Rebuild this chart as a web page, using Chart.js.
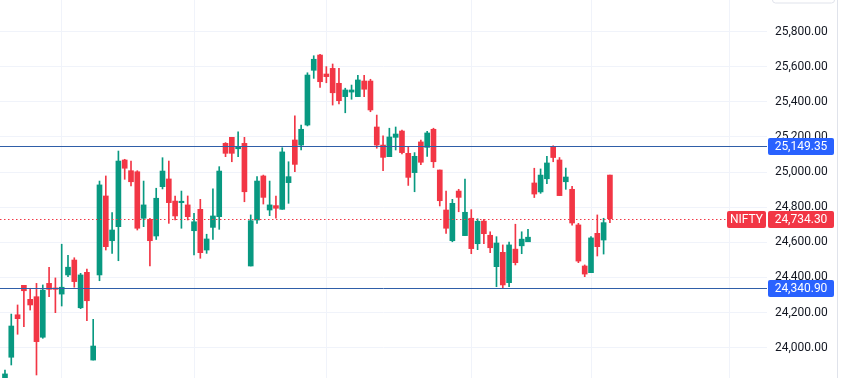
<!DOCTYPE html>
<html>
<head>
<meta charset="utf-8">
<script src="https://cdn.jsdelivr.net/npm/chart.js@4.4.1/dist/chart.umd.min.js"></script>
<style>
html, body { margin: 0; padding: 0; background: #ffffff; }
#wrap { width: 849px; height: 378px; }
</style>
</head>
<body>
<div id="wrap"><canvas id="nifty" width="849" height="378"></canvas></div>
<script>
// ── DATOS (NIFTY diario) ──
var dates = [
    '2025-04-17','2025-04-21','2025-04-22','2025-04-23','2025-04-24','2025-04-25','2025-04-28','2025-04-29','2025-04-30',
    '2025-05-02','2025-05-05','2025-05-06','2025-05-07','2025-05-08','2025-05-09','2025-05-12','2025-05-13','2025-05-14','2025-05-15','2025-05-16',
    '2025-05-19','2025-05-20','2025-05-21','2025-05-22','2025-05-23','2025-05-26','2025-05-27','2025-05-28','2025-05-29','2025-05-30',
    '2025-06-02','2025-06-03','2025-06-04','2025-06-05','2025-06-06','2025-06-09','2025-06-10','2025-06-11','2025-06-12','2025-06-13',
    '2025-06-16','2025-06-17','2025-06-18','2025-06-19','2025-06-20','2025-06-23','2025-06-24','2025-06-25','2025-06-26','2025-06-27','2025-06-30',
    '2025-07-01','2025-07-02','2025-07-03','2025-07-04','2025-07-07','2025-07-08','2025-07-09','2025-07-10','2025-07-11','2025-07-14','2025-07-15',
    '2025-07-16','2025-07-17','2025-07-18','2025-07-21','2025-07-22','2025-07-23','2025-07-24','2025-07-25','2025-07-28','2025-07-29','2025-07-30','2025-07-31',
    '2025-08-01','2025-08-04','2025-08-05','2025-08-06','2025-08-07','2025-08-08','2025-08-11','2025-08-12','2025-08-13','2025-08-14',
    '2025-08-18','2025-08-19','2025-08-20','2025-08-21','2025-08-22','2025-08-25','2025-08-26','2025-08-28','2025-08-29',
    '2025-09-01','2025-09-02','2025-09-03','2025-09-04'
];
var opens = [
    23790, 23945, 24187, 24355, 24275, 24290, 24059, 24366, 24340,
    24305, 24414, 24499, 24227, 24429, 23929, 24414, 24864, 24609, 24689, 25069,
    25008, 25002, 24737, 24731, 24636, 24917, 24961, 24835, 24826, 24813,
    24666, 24788, 24556, 24685, 24746, 25164, 25198, 25133, 25164, 24465,
    24727, 24978, 24784, 24809, 24788, 24940, 25183, 25154, 25268, 25580, 25667,
    25559, 25591, 25506, 25430, 25456, 25430, 25519, 25519, 25257, 25154, 25088,
    25198, 25234, 25107, 24997, 25172, 25141, 25244, 25012, 24784, 24609, 24892, 24638,
    24737, 24592, 24721, 24640, 24461, 24543, 24370, 24561, 24580, 24603,
    24938, 24887, 24962, 25143, 25069, 24945, 24902, 24699, 24465,
    24427, 24651, 24613, 24983
];
var highs = [
    23872, 24191, 24243, 24355, 24338, 24366, 24357, 24458, 24397,
    24589, 24526, 24512, 24423, 24448, 24161, 24949, 24978, 24769, 25120, 25073,
    25063, 25008, 24949, 24737, 24908, 25082, 25063, 24864, 24892, 24864,
    24765, 24845, 24646, 24904, 25031, 25168, 25198, 25230, 25198, 24756,
    24974, 24983, 24949, 24864, 25139, 25059, 25320, 25268, 25566, 25663, 25671,
    25601, 25616, 25591, 25478, 25496, 25552, 25552, 25529, 25325, 25206, 25250,
    25257, 25240, 25146, 25111, 25183, 25233, 25250, 25012, 24892, 24845, 24902, 24960,
    24786, 24734, 24731, 24660, 24632, 24585, 24601, 24703, 24660, 24674,
    25022, 25018, 25090, 25150, 25083, 25023, 24919, 24708, 24471,
    24632, 24756, 24737, 24983
];
var lows = [
    23770, 23901, 24076, 24119, 24214, 23844, 24053, 24290, 24199,
    24237, 24404, 24344, 24222, 24153, 23929, 24381, 24556, 24537, 24495, 24959,
    24921, 24670, 24689, 24465, 24616, 24904, 24708, 24727, 24680, 24727,
    24528, 24509, 24537, 24617, 24674, 25088, 25059, 25088, 24831, 24465,
    24708, 24818, 24752, 24737, 24788, 24822, 25002, 25126, 25263, 25534, 25483,
    25509, 25382, 25388, 25338, 25415, 25430, 25430, 25344, 25136, 25008, 25088,
    25126, 25103, 24924, 24888, 25043, 25090, 25026, 24807, 24651, 24603, 24774, 24638,
    24535, 24558, 24592, 24541, 24347, 24340, 24347, 24471, 24535, 24603,
    24855, 24879, 24934, 25059, 24866, 24902, 24697, 24484, 24404,
    24427, 24522, 24533, 24712
];
var closes = [
    23850, 24123, 24165, 24324, 24243, 24034, 24328, 24332, 24332,
    24344, 24458, 24376, 24414, 24267, 24009, 24927, 24575, 24670, 25063, 25022,
    24945, 24680, 24813, 24609, 24851, 25006, 24826, 24750, 24834, 24746,
    24717, 24541, 24619, 24750, 25006, 25107, 25107, 25145, 24888, 24723,
    24949, 24856, 24813, 24794, 25115, 24974, 25044, 25244, 25553, 25643, 25515,
    25544, 25452, 25407, 25468, 25468, 25525, 25472, 25354, 25154, 25084, 25200,
    25217, 25111, 24970, 25090, 25056, 25223, 25059, 24837, 24680, 24822, 24856, 24771,
    24564, 24720, 24649, 24569, 24596, 24357, 24585, 24484, 24618, 24629,
    24875, 24983, 25052, 25083, 24866, 24972, 24710, 24493, 24419,
    24625, 24575, 24712, 24734.30
];
var priceTicks = [24000, 24200, 24400, 24600, 24800, 25000, 25200, 25400, 25600, 25800];
var monthStarts = [9, 30, 51, 74, 93, 115]; // 1er dia habil de cada mes (oct = futuro)
var levels = [25149.35, 24340.90];
var symbol = 'NIFTY';

var UP = '#089981', DOWN = '#F23645', LEVEL = '#2f5ea8', LEVEL_BOX = '#2962FF', GRID = '#f0f3fa';

function fmtP(v) { return v.toLocaleString('en-US', { minimumFractionDigits: 2, maximumFractionDigits: 2 }); }

var candleColors = opens.map(function(o, i) { return closes[i] >= o ? UP : DOWN; });
var bodies = opens.map(function(o, i) { return { x: i, y: [o, closes[i]] }; });
var wicks = lows.map(function(l, i) { return { x: i, y: [l, highs[i]] }; });
var lastClose = closes[closes.length - 1];

// ── LINEAS Y ETIQUETAS ──
var overlay = {
    id: 'overlay',
    afterDatasetsDraw: function(chart) {
        var ctx = chart.ctx, area = chart.chartArea, ys = chart.scales.y;
        ctx.save();
        ctx.lineWidth = 1;
        levels.forEach(function(v) {
            var py = Math.round(ys.getPixelForValue(v)) + 0.5;
            ctx.strokeStyle = LEVEL;
            ctx.beginPath(); ctx.moveTo(area.left, py); ctx.lineTo(area.right, py); ctx.stroke();
        });
        var pl = Math.round(ys.getPixelForValue(lastClose)) + 0.5;
        ctx.strokeStyle = DOWN;
        ctx.setLineDash([1.5, 2.5]);
        ctx.beginPath(); ctx.moveTo(area.left, pl); ctx.lineTo(727, pl); ctx.stroke();
        ctx.restore();
    },
    afterDraw: function(chart) {
        var ctx = chart.ctx, area = chart.chartArea, ys = chart.scales.y;
        ctx.save();
        // borde del panel de precios
        ctx.strokeStyle = '#e0e3eb';
        ctx.lineWidth = 1;
        ctx.beginPath(); ctx.moveTo(837.5, 0); ctx.lineTo(837.5, chart.height); ctx.stroke();
        ctx.beginPath(); ctx.roundRect(772.5, -6, 62, 9, 3); ctx.stroke();

        ctx.font = '12px Roboto';
        ctx.textBaseline = 'middle';
        function box(x, w, cy, color, txt) {
            ctx.fillStyle = color;
            ctx.beginPath(); ctx.roundRect(x, Math.round(cy) - 8, w, 17, 2); ctx.fill();
            ctx.fillStyle = '#ffffff';
            ctx.textAlign = 'center';
            ctx.fillText(txt, x + w / 2, Math.round(cy) + 0.5);
        }
        levels.forEach(function(v) {
            box(area.right + 1, 66, ys.getPixelForValue(v), LEVEL_BOX, fmtP(v));
        });
        var cy = ys.getPixelForValue(lastClose);
        box(727, 39, cy, DOWN, symbol);
        box(area.right + 1, 66, cy, DOWN, fmtP(lastClose));
        ctx.restore();
    }
};

new Chart(document.getElementById('nifty'), {
    type: 'bar',
    data: {
        labels: dates,
        datasets: [{
            label: 'body',
            data: bodies,
            backgroundColor: candleColors,
            borderWidth: 0,
            barThickness: 5,
            minBarLength: 1,
            grouped: false
        }, {
            label: 'wick',
            data: wicks,
            backgroundColor: candleColors,
            borderWidth: 0,
            barThickness: 1,
            grouped: false
        }]
    },
    options: {
        responsive: false,
        animation: false,
        layout: { padding: 0 },
        plugins: { legend: { display: false }, tooltip: { enabled: false } },
        scales: {
            x: {
                type: 'linear',
                min: -0.79, max: 120.93,
                offset: false,
                grid: { color: GRID, drawTicks: false, offset: false },
                border: { display: false },
                ticks: { display: false },
                afterBuildTicks: function(s) { s.ticks = monthStarts.map(function(v) { return { value: v }; }); },
                afterFit: function(s) { s.height = 0; s.paddingLeft = 0; s.paddingRight = 0; }
            },
            y: {
                position: 'right',
                min: 23826.8, max: 25980.6,
                beginAtZero: false,
                grid: { color: GRID, drawTicks: false },
                border: { display: false },
                ticks: {
                    padding: 8,
                    color: '#131722',
                    font: { family: 'Roboto', size: 12 },
                    callback: function(v) { return fmtP(v); }
                },
                afterBuildTicks: function(s) { s.ticks = priceTicks.map(function(v) { return { value: v }; }); },
                afterFit: function(s) { s.width = 82; s.paddingTop = 0; s.paddingBottom = 0; }
            }
        }
    },
    plugins: [overlay]
});
</script>
</body>
</html>
